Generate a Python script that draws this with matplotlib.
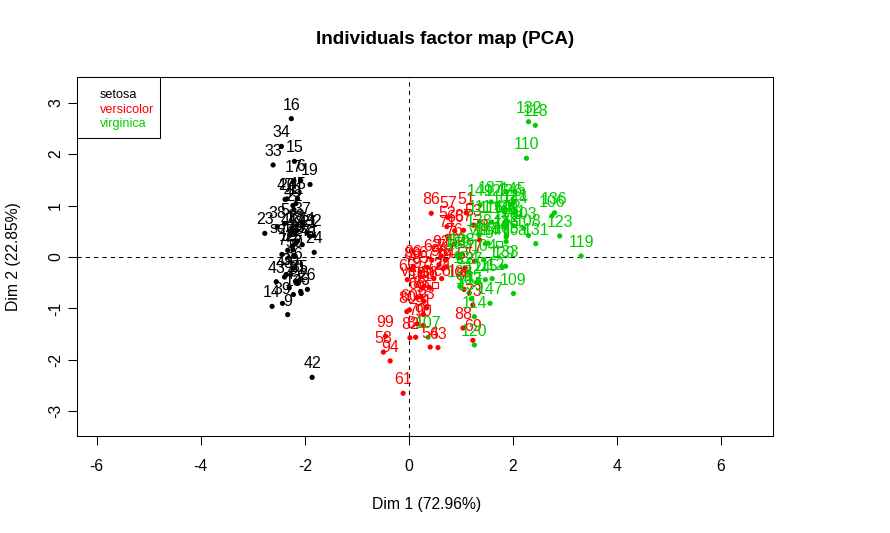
import matplotlib
matplotlib.use("Agg")
import matplotlib.pyplot as plt
from matplotlib.patches import Rectangle

# PCA coordinates of the 150 individuals (Dim 1, Dim 2)
dim1 = [-2.26, -2.08, -2.36, -2.30, -2.39, -2.08, -2.44, -2.23, -2.33, -2.18,
        -2.17, -2.33, -2.22, -2.63, -2.20, -2.26, -2.21, -2.19, -1.90, -2.34,
        -1.91, -2.21, -2.77, -1.82, -2.23, -1.95, -2.05, -2.17, -2.14, -2.27,
        -2.14, -1.83, -2.61, -2.45, -2.11, -2.21, -2.05, -2.53, -2.43, -2.17,
        -2.29, -1.86, -2.55, -1.96, -2.14, -2.07, -2.38, -2.39, -2.23, -2.20,
        1.10, 0.73, 1.24, 0.41, 1.08, 0.39, 0.75, -0.49, 0.93, 0.01,
        -0.11, 0.44, 0.56, 0.72, -0.03, 0.88, 0.35, 0.16, 1.23, 0.16,
        0.74, 0.48, 1.23, 0.63, 0.70, 0.87, 1.26, 1.36, 0.66, -0.04,
        0.13, 0.02, 0.24, 1.06, 0.22, 0.43, 1.05, 1.04, 0.07, 0.28,
        0.28, 0.62, 0.34, -0.36, 0.29, 0.09, 0.23, 0.58, -0.45, 0.26,
        1.84, 1.16, 2.21, 1.44, 1.87, 2.75, 0.37, 2.30, 2.01, 2.26,
        1.36, 1.60, 1.88, 1.26, 1.47, 1.59, 1.47, 2.43, 3.31, 1.26,
        2.04, 0.98, 2.90, 1.33, 1.70, 1.95, 1.18, 1.02, 1.79, 1.86,
        2.44, 2.30, 1.86, 1.11, 1.20, 2.80, 1.58, 1.35, 0.92, 1.85,
        2.01, 1.90, 1.16, 2.04, 2.00, 1.87, 1.56, 1.52, 1.37, 0.96]
dim2 = [0.48, -0.67, -0.34, -0.60, 0.65, 1.49, 0.05, 0.22, -1.12, -0.47,
        1.04, 0.13, -0.73, -0.96, 1.86, 2.69, 1.48, 0.49, 1.41, 1.13,
        0.41, 0.92, 0.46, 0.09, 0.14, -0.63, 0.24, 0.53, 0.31, -0.34,
        -0.50, 0.42, 1.79, 2.15, -0.46, -0.21, 0.66, 0.59, -0.90, 0.27,
        0.44, -2.34, -0.48, 0.47, 1.14, -0.71, 1.12, -0.39, 1.00, 0.01,
        0.86, 0.59, 0.62, -1.75, -0.21, -0.59, 0.77, -1.85, 0.03, -1.03,
        -2.65, -0.06, -1.76, -0.19, -0.44, 0.51, -0.20, -0.79, -1.62, -1.30,
        0.40, -0.42, -0.93, -0.42, -0.06, 0.25, -0.08, 0.33, -0.23, -1.06,
        -1.56, -1.57, -0.78, -0.63, -0.29, 0.85, 0.52, -1.38, -0.22, -1.33,
        -1.12, 0.02, -0.99, -2.02, -0.86, -0.18, -0.38, -0.15, -1.54, -0.60,
        0.87, -0.70, 0.56, -0.05, 0.30, 0.80, -1.56, 0.42, -0.71, 1.92,
        0.69, -0.42, 0.42, -1.16, -0.44, 0.68, 0.26, 2.56, 0.02, -1.71,
        0.91, -0.57, 0.41, -0.48, 1.01, 1.01, -0.32, 0.06, -0.19, 0.56,
        0.26, 2.63, -0.18, -0.29, -0.81, 0.86, 1.07, 0.42, 0.02, 0.68,
        0.61, 0.69, -0.70, 0.87, 1.05, 0.39, -0.90, 0.27, 1.01, -0.02]
labels = [str(i) for i in range(1, 151)]
species = ["setosa"] * 50 + ["versicolor"] * 50 + ["virginica"] * 50

# supplementary categories (species centroids)
groups = ["setosa", "versicolor", "virginica"]
group_dim1 = [-2.22, 0.50, 1.73]
group_dim2 = [0.29, -0.55, 0.26]

colors = {"setosa": "#000000", "versicolor": "#FF0000", "virginica": "#00CD00"}

plt.rcParams["font.family"] = ["Liberation Sans", "DejaVu Sans"]
plt.rcParams["axes.unicode_minus"] = False

fig = plt.figure(figsize=(8.9, 5.33), dpi=100)
ax = fig.add_axes([77 / 890, 97 / 533, 696 / 890, 359 / 533])

cols = [colors[s] for s in species]
ax.scatter(dim1, dim2, s=14, c=cols, linewidths=0, zorder=3)
for x, y, lab, c in zip(dim1, dim2, labels, cols):
    ax.annotate(lab, (x, y), xytext=(0, 6.5), textcoords="offset points",
                ha="center", va="baseline", color=c, fontsize=11.5, zorder=4)

for g, x, y in zip(groups, group_dim1, group_dim2):
    ax.plot(x, y, marker="s", ms=5, mfc="none", mec=colors[g], mew=0.8, zorder=5)
    ax.annotate(g, (x, y), xytext=(0, 6.5), textcoords="offset points",
                ha="center", va="baseline", color=colors[g], fontsize=11.5, zorder=5)

ax.axhline(0, color="black", lw=0.75, ls=(0, (4, 4)), zorder=2)
ax.axvline(0, color="black", lw=0.75, ls=(0, (4, 4)), zorder=2)

ax.set_xlim(-6.38, 7.0)
ax.set_ylim(-3.48, 3.5)
ax.set_xticks([-6, -4, -2, 0, 2, 4, 6])
ax.set_yticks([-3, -2, -1, 0, 1, 2, 3])
ax.tick_params(axis="both", direction="out", length=6.5, width=0.75, labelsize=11.3)
ax.tick_params(axis="x", pad=10)
ax.tick_params(axis="y", pad=3.5)
for t in ax.get_yticklabels():
    t.set_rotation(90)
    t.set_va("center")
for sp in ax.spines.values():
    sp.set_linewidth(0.75)

fig.text(0.5, 1 - 40 / 533, "Individuals factor map (PCA)", ha="center", va="center",
         fontsize=13.6, fontweight="bold")
fig.text(427 / 890, 1 - 504 / 533, "Dim 1 (72.96%)", ha="center", va="center", fontsize=11.3)
fig.text(14 / 890, 1 - 257 / 533, "Dim 2 (22.85%)", ha="center", va="center",
         rotation=90, fontsize=11.3)

# legend box in the top-left corner, text only
fig.add_artist(Rectangle((77 / 890, 1 - 138 / 533), 83 / 890, 61 / 533,
                         transform=fig.transFigure, fill=True, facecolor="white",
                         edgecolor="black", lw=0.75, zorder=10))
for g, ypx in zip(groups, [95, 110, 124.5]):
    fig.text(100 / 890, 1 - ypx / 533, g, ha="left", va="center",
             color=colors[g], fontsize=9.1, zorder=11)

fig.savefig("out.png", dpi=100)
